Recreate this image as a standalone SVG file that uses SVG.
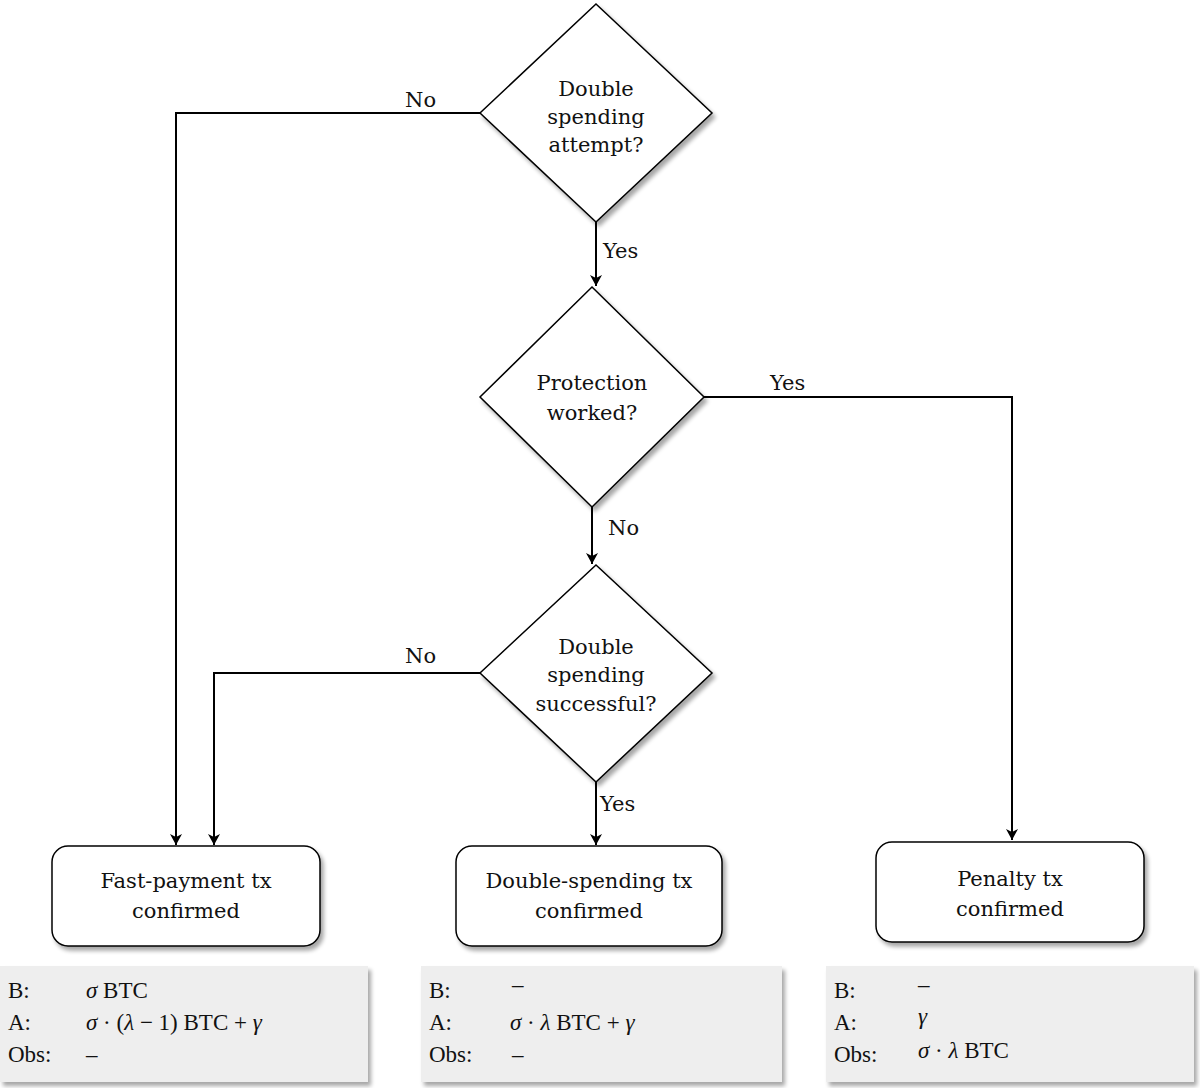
<svg xmlns="http://www.w3.org/2000/svg" width="1200" height="1088" viewBox="0 0 1200 1088">
<defs>
<marker id="ah" markerWidth="10" markerHeight="12" refX="5" refY="11" orient="auto" markerUnits="userSpaceOnUse"><path d="M0,0 L5,11 L10,0 L5,4 Z" fill="#000" transform="rotate(-90 5 6) translate(-1 1)"/></marker>
<marker id="a2" viewBox="0 0 12 12" markerWidth="12" markerHeight="12" refX="11" refY="6" orient="auto" markerUnits="userSpaceOnUse"><path d="M0,0 L11,6 L0,12 L3,6 Z" fill="#000"/></marker>
<filter id="sh" x="-10%" y="-10%" width="130%" height="140%"><feGaussianBlur in="SourceAlpha" stdDeviation="2"/><feOffset dx="3" dy="4"/><feComponentTransfer><feFuncA type="linear" slope="0.35"/></feComponentTransfer><feMerge><feMergeNode/><feMergeNode in="SourceGraphic"/></feMerge></filter>
</defs>
<style>
text{font-family:"DejaVu Serif","Liberation Serif",serif;font-size:21px;fill:#111}
.c{text-anchor:middle}
.n{fill:#fff;stroke:#000;stroke-width:1.5}
.i{fill:#eeeeee;stroke:none}
.l{fill:none;stroke:#000;stroke-width:2;marker-end:url(#a2)}
.m{font-family:"Liberation Serif","DejaVu Serif",serif;font-size:23px}
</style>
<rect width="1200" height="1088" fill="#fff"/>
<g id="connectors">
<polyline class="l" points="480,113 176,113 176,845"/>
<text x="405" y="107">No</text>
<polyline class="l" points="596,222 596,286"/>
<text x="603" y="258">Yes</text>
<polyline class="l" points="704,397 1012,397 1012,840"/>
<text x="770" y="390">Yes</text>
<polyline class="l" points="592,507 592,564"/>
<text x="608" y="535">No</text>
<polyline class="l" points="480,673 214,673 214,845"/>
<text x="405" y="663">No</text>
<polyline class="l" points="596,782 596,845"/>
<text x="600" y="811">Yes</text>
</g>
<g id="d1"><polygon class="n" filter="url(#sh)" points="596,4 712,113 596,222 480,113"/>
<text class="c" x="596" y="96">Double</text><text class="c" x="596" y="124">spending</text><text class="c" x="596" y="152">attempt?</text></g>
<g id="d2"><polygon class="n" filter="url(#sh)" points="592,287 704,397 592,507 480,397"/>
<text class="c" x="592" y="390">Protection</text><text class="c" x="592" y="420">worked?</text></g>
<g id="d3"><polygon class="n" filter="url(#sh)" points="596,565 712,673 596,782 480,673"/>
<text class="c" x="596" y="654">Double</text><text class="c" x="596" y="682">spending</text><text class="c" x="596" y="711">successful?</text></g>
<g id="b1"><rect class="n" filter="url(#sh)" x="52" y="846" width="268" height="100" rx="16"/>
<text class="c" x="186" y="888">Fast-payment tx</text><text class="c" x="186" y="918">confirmed</text></g>
<g id="b2"><rect class="n" filter="url(#sh)" x="456" y="846" width="266" height="100" rx="16"/>
<text class="c" x="589" y="888">Double-spending tx</text><text class="c" x="589" y="918">confirmed</text></g>
<g id="b3"><rect class="n" filter="url(#sh)" x="876" y="842" width="268" height="100" rx="16"/>
<text class="c" x="1010" y="886">Penalty tx</text><text class="c" x="1010" y="916">confirmed</text></g>
<g id="i1"><rect class="i" filter="url(#sh)" x="0" y="966" width="368" height="116"/>
<text class="m" x="8" y="998">B:</text><text class="m" x="8" y="1030">A:</text><text class="m" x="8" y="1062">Obs:</text>
<text class="m" x="86" y="998"><tspan font-style="italic">σ</tspan> BTC</text>
<text class="m" x="86" y="1030"><tspan font-style="italic">σ</tspan> · (<tspan font-style="italic">λ</tspan> − 1) BTC + <tspan font-style="italic">γ</tspan></text>
<text class="m" x="86" y="1062">–</text></g>
<g id="i2"><rect class="i" filter="url(#sh)" x="421" y="966" width="361" height="116"/>
<text class="m" x="429" y="998">B:</text><text class="m" x="429" y="1030">A:</text><text class="m" x="429" y="1062">Obs:</text>
<text class="m" x="512" y="992">–</text>
<text class="m" x="510" y="1030"><tspan font-style="italic">σ</tspan> · <tspan font-style="italic">λ</tspan> BTC + <tspan font-style="italic">γ</tspan></text>
<text class="m" x="512" y="1062">–</text></g>
<g id="i3"><rect class="i" filter="url(#sh)" x="826" y="966" width="368" height="116"/>
<text class="m" x="834" y="998">B:</text><text class="m" x="834" y="1030">A:</text><text class="m" x="834" y="1062">Obs:</text>
<text class="m" x="918" y="992">–</text>
<text class="m" x="918" y="1024" font-style="italic">γ</text>
<text class="m" x="918" y="1058"><tspan font-style="italic">σ</tspan> · <tspan font-style="italic">λ</tspan> BTC</text></g>
</svg>
